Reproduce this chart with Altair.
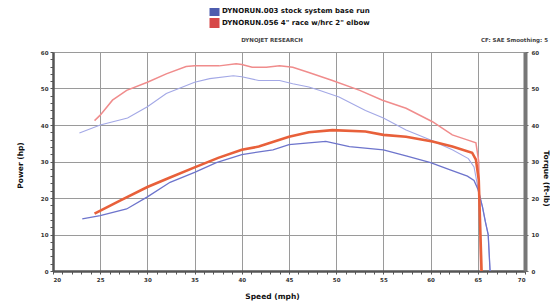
import altair as alt
import pandas as pd

run_blue = "DYNORUN.003 stock system base run"
run_red = 'DYNORUN.056 4" race w/hrc 2" elbow'
runs = [run_blue, run_red]

blue_pw_mph = [22.8, 25.0, 27.9, 30.0, 32.0, 35.0, 36.6, 39.1, 40.0, 41.8, 44.0, 45.4, 47.1, 48.2, 50.3, 53.1, 55.0, 57.4, 60.0, 62.3, 64.0, 64.6, 65.0, 65.5, 65.8, 66.1, 66.3]
blue_pw_hp = [37.8, 40.0, 41.9, 45.0, 48.6, 51.7, 52.7, 53.5, 53.2, 52.2, 52.2, 51.3, 50.4, 49.5, 47.7, 44.0, 41.9, 38.6, 35.9, 33.2, 30.8, 28.5, 23.0, 17.5, 13.5, 10.0, 0.0]

blue_tq_mph = [23.1, 25.0, 27.8, 30.0, 32.4, 35.0, 37.3, 40.0, 43.3, 45.0, 47.1, 48.9, 51.4, 55.0, 57.5, 60.0, 62.0, 63.9, 64.6, 65.0, 65.5, 65.8, 66.1, 66.3]
blue_tq = [14.3, 15.2, 17.0, 20.3, 24.3, 27.0, 29.7, 31.9, 33.2, 34.6, 35.1, 35.5, 34.1, 33.2, 31.5, 29.7, 27.8, 26.0, 24.8, 22.5, 17.5, 13.5, 10.0, 0.0]

red_pw_mph = [24.4, 25.0, 26.3, 27.8, 30.0, 32.0, 34.1, 35.0, 37.6, 39.4, 40.0, 41.1, 42.6, 44.0, 45.4, 47.1, 49.6, 52.5, 54.9, 57.4, 60.2, 62.3, 63.8, 64.8, 65.1, 65.3]
red_pw_hp = [41.2, 42.7, 46.8, 49.5, 51.7, 54.0, 56.0, 56.2, 56.2, 56.8, 56.6, 55.8, 55.8, 56.2, 55.8, 54.4, 52.2, 49.5, 46.8, 44.6, 40.9, 37.3, 36.0, 35.1, 30.0, 0.0]

red_tq_mph = [24.4, 27.1, 30.0, 32.4, 35.0, 37.5, 40.0, 41.8, 45.0, 47.1, 49.6, 53.1, 55.0, 57.4, 60.2, 62.3, 64.4, 64.8, 65.1, 65.4]
red_tq = [15.7, 19.3, 23.0, 25.6, 28.4, 31.0, 33.2, 34.1, 36.8, 38.0, 38.6, 38.2, 37.3, 36.8, 35.5, 34.1, 32.4, 30.5, 25.0, 0.0]

x_ticks = list(range(20, 71))
y_ticks = list(range(0, 61, 2))
right_ticks = list(range(0, 61, 10))

power = pd.DataFrame({
    "run": [run_blue] * len(blue_pw_mph) + [run_red] * len(red_pw_mph),
    "mph": blue_pw_mph + red_pw_mph,
    "val": blue_pw_hp + red_pw_hp,
})
torque = pd.DataFrame({
    "run": [run_blue] * len(blue_tq_mph) + [run_red] * len(red_tq_mph),
    "mph": blue_tq_mph + red_tq_mph,
    "val": blue_tq + red_tq,
})
legend_df = pd.DataFrame({"run": runs})

FONT = "DejaVu Sans"

x_axis = alt.Axis(
    values=x_ticks,
    labelExpr="datum.value % 5 === 0 ? datum.label : ''",
    labelOverlap=False,
    gridOpacity=alt.condition("datum.value % 5 === 0", alt.value(1), alt.value(0)),
    gridColor="#9a9a9a",
    tickSize=3,
    tickColor="#555",
    domainColor="#555",
    domainWidth=2.5,
    labelFontSize=5.5,
    labelFont=FONT,
    labelFontWeight="bold",
    labelColor="#333",
    labelPadding=3,
    title="Speed (mph)",
    titleFont=FONT,
    titleFontSize=7.5,
    titleFontWeight="bold",
    titleColor="#111",
    titleX=219,
    titleY=25,
    titleBaseline="middle",
)
x_scale = alt.Scale(domain=[20, 70], nice=False, zero=False)

power_layer = alt.Chart(power).mark_line(clip=True).encode(
    x=alt.X("mph:Q", scale=x_scale, axis=x_axis),
    y=alt.Y(
        "val:Q",
        scale=alt.Scale(domain=[0, 60], nice=False),
        axis=alt.Axis(
            orient="left",
            values=y_ticks,
            labelExpr="datum.value % 10 === 0 ? datum.label : ''",
            labelOverlap=False,
            gridOpacity=alt.condition("datum.value % 10 === 0", alt.value(1), alt.value(0)),
            gridColor="#9a9a9a",
            tickSize=3,
            tickColor="#555",
            domainColor="#555",
            domainWidth=2.5,
            labelFontSize=5.5,
            labelFont=FONT,
            labelFontWeight="bold",
            labelColor="#333",
            labelPadding=2,
            title="Power (hp)",
            titleFont=FONT,
            titleFontSize=7.5,
            titleFontWeight="bold",
            titleColor="#111",
            titleX=-33,
            titleY=113,
            titleBaseline="middle",
        ),
    ),
    color=alt.Color(
        "run:N",
        scale=alt.Scale(domain=runs, range=["#a3a8e6", "#f08c8c"]),
        legend=None,
    ),
    strokeWidth=alt.StrokeWidth(
        "run:N",
        scale=alt.Scale(domain=runs, range=[1.1, 1.5]),
        legend=None,
    ),
)

torque_layer = alt.Chart(torque).mark_line(clip=True).encode(
    x=alt.X("mph:Q", scale=x_scale, axis=x_axis),
    y=alt.Y(
        "val:Q",
        scale=alt.Scale(domain=[0, 60], nice=False),
        axis=alt.Axis(
            orient="right",
            values=right_ticks,
            grid=False,
            tickSize=3,
            tickColor="#666",
            domainColor="#777",
            domainWidth=4,
            labelFontSize=5.5,
            labelFont=FONT,
            labelFontWeight="bold",
            labelColor="#333",
            labelPadding=3,
            title="Torque (ft-lb)",
            titleFont=FONT,
            titleFontSize=7.5,
            titleFontWeight="bold",
            titleColor="#111",
            titleAngle=90,
            titleX=20,
            titleY=126,
            titleBaseline="middle",
        ),
    ),
    color=alt.Color(
        "run:N",
        scale=alt.Scale(domain=runs, range=["#6d74cc", "#e8603a"]),
        legend=None,
    ),
    strokeWidth=alt.StrokeWidth(
        "run:N",
        scale=alt.Scale(domain=runs, range=[1.3, 2.6]),
        legend=None,
    ),
)

legend_y = alt.Y(
    "run:N",
    scale=alt.Scale(type="point", domain=runs, range=[-41, -29], padding=0),
    axis=None,
)
legend_sq = alt.Chart(legend_df).mark_square(size=100, opacity=1, filled=True).encode(
    x=alt.value(161.5),
    y=legend_y,
    color=alt.Color("run:N", scale=alt.Scale(domain=runs, range=["#4d5cae", "#d64848"]), legend=None),
)
legend_txt = alt.Chart(legend_df).mark_text(
    font=FONT, fontSize=7, fontWeight="bold", color="#111", align="left", baseline="middle"
).encode(
    x=alt.value(169),
    y=legend_y,
    text="run:N",
)

header = pd.DataFrame({"t": ["DYNOJET RESEARCH"]})
header_layer = alt.Chart(header).mark_text(
    font=FONT, fontSize=5.5, fontWeight="bold", color="#444", align="center", baseline="middle"
).encode(text="t:N", x=alt.value(219), y=alt.value(-12))

cf = pd.DataFrame({"t": ["CF: SAE  Smoothing: 5"]})
cf_layer = alt.Chart(cf).mark_text(
    font=FONT, fontSize=5.5, fontWeight="bold", color="#444", align="right", baseline="middle"
).encode(text="t:N", x=alt.value(495), y=alt.value(-12))

chart = (
    alt.layer(power_layer, torque_layer, legend_sq, legend_txt, header_layer, cf_layer)
    .resolve_scale(y="independent", color="independent", strokeWidth="independent")
    .properties(
        width=472,
        height=219,
        autosize=alt.AutoSizeParams(type="none"),
        padding={"left": 45, "top": 44, "right": 25, "bottom": 30},
    )
    .configure_view(stroke="#aaa", strokeWidth=2.5)
    .configure(background="white")
)

chart.save("out.html", embed_options={"renderer": "svg", "actions": False})
